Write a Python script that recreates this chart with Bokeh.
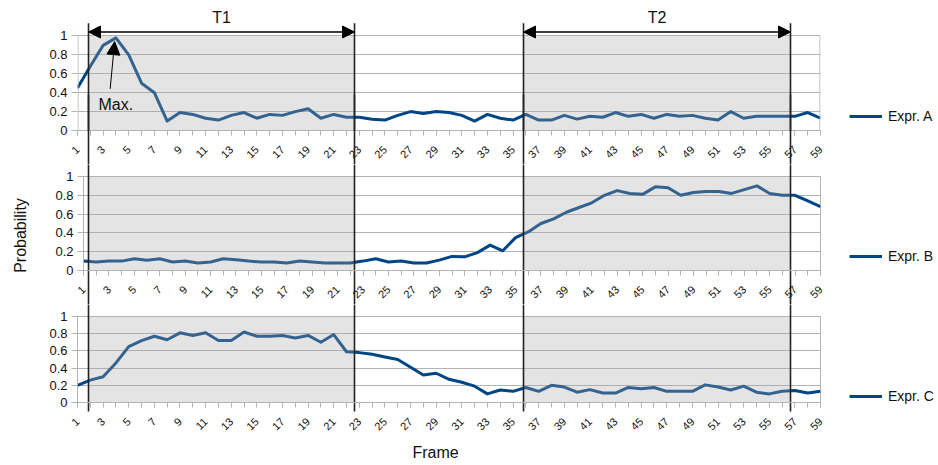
import math
from bokeh.plotting import figure
from bokeh.layouts import column, row
from bokeh.models import (Range1d, FixedTicker, BoxAnnotation, Arrow, NormalHead,
                          Label, Legend, LegendItem, LinearAxis, Title)
from bokeh.embed import file_html
from bokeh.resources import INLINE

# ---------------- data ----------------
frames = list(range(1, 60))
series_names = ["Expr. A", "Expr. B", "Expr. C"]
expr_a = [0.45, 0.68, 0.90, 0.98, 0.80, 0.50, 0.40, 0.10, 0.19, 0.17,
          0.13, 0.11, 0.16, 0.19, 0.13, 0.17, 0.16, 0.20, 0.23, 0.13,
          0.17, 0.14, 0.14, 0.12, 0.11, 0.16, 0.20, 0.18, 0.20, 0.19,
          0.16, 0.10, 0.17, 0.13, 0.11, 0.17, 0.11, 0.11, 0.16, 0.12,
          0.15, 0.14, 0.19, 0.15, 0.17, 0.13, 0.17, 0.15, 0.16, 0.13,
          0.11, 0.20, 0.13, 0.15, 0.15, 0.15, 0.15, 0.19, 0.13]
expr_b = [0.10, 0.09, 0.10, 0.10, 0.125, 0.11, 0.125, 0.09, 0.10, 0.08,
          0.09, 0.125, 0.115, 0.10, 0.09, 0.09, 0.08, 0.10, 0.09, 0.08,
          0.08, 0.08, 0.10, 0.125, 0.09, 0.10, 0.08, 0.08, 0.11, 0.15,
          0.145, 0.19, 0.27, 0.21, 0.35, 0.41, 0.50, 0.55, 0.62, 0.67,
          0.72, 0.80, 0.85, 0.82, 0.81, 0.89, 0.88, 0.80, 0.83, 0.84,
          0.84, 0.82, 0.86, 0.90, 0.82, 0.80, 0.80, 0.74, 0.68]
expr_c = [0.20, 0.26, 0.30, 0.46, 0.65, 0.72, 0.77, 0.73, 0.81, 0.78,
          0.81, 0.72, 0.72, 0.82, 0.77, 0.77, 0.78, 0.75, 0.78, 0.70,
          0.79, 0.59, 0.58, 0.56, 0.53, 0.50, 0.41, 0.32, 0.34, 0.27,
          0.235, 0.19, 0.10, 0.145, 0.13, 0.175, 0.13, 0.20, 0.18, 0.12,
          0.15, 0.11, 0.11, 0.175, 0.16, 0.175, 0.13, 0.13, 0.13, 0.205,
          0.18, 0.145, 0.19, 0.12, 0.10, 0.13, 0.14, 0.11, 0.13]
y_ticks = [0, 0.2, 0.4, 0.6, 0.8, 1]
y_tick_labels = ["0", "0.2", "0.4", "0.6", "0.8", "1"]
x_tick_frames = list(range(1, 60, 2))
x_tick_labels = [str(f) for f in x_tick_frames]
period_names = ["T1", "T2"]

# ---------------- layout / style (page pixels) ----------------
W, H = 938, 465
LEFT_W = 40            # strip holding the "Probability" label
RIGHT_X = 824          # legend strip starts here
FRAME_RIGHT = 820
# (frame_left, frame_top, frame_bottom, fig_top, fig_bottom); panel A's frame
# reaches up to the page top so the period arrows can live in it
PANELS = [(77, 0, 132, 0, 164), (83, 176, 272, 164, 304), (77, 316, 406, 304, 465)]
PLOT_TOP_A = 36
GUIDE_X = [88, 354, 523, 790]
GUIDE_TOP, GUIDE_BOTTOM_C = 23, 411
ARROW_Y = 32
PERIOD_LABEL_Y = 17
LEGEND_Y = [116, 256, 396]
LEGEND_X = 849
PROB_LABEL = (20, 235)
FRAME_LABEL_LEFT = 412
LINE_COLOR = "#004586"
GUIDE_COLOR = "#222222"
GRID = "#b3b3b3"
FONT = "Liberation Sans"
TXT = "#111111"


def blank_fig(x0, x1, w):
    f = figure(width=w, height=H, x_range=Range1d(x0, x1), y_range=Range1d(H, 0),
               x_axis_type=None, y_axis_type=None, output_backend="svg",
               toolbar_location=None, min_border=0, title=None, frame_align=False)
    f.outline_line_color = None
    f.background_fill_color = "white"
    f.border_fill_color = "white"
    return f


# left strip: y axis title
left = blank_fig(0, LEFT_W, LEFT_W)
left.add_layout(Label(x=PROB_LABEL[0], y=PROB_LABEL[1], text="Probability", angle=math.pi / 2,
                      text_align="center", text_baseline="middle", text_font=FONT,
                      text_font_size="16px", text_color=TXT))

series = [expr_a, expr_b, expr_c]
figs = []
for i, (vals, name, pan) in enumerate(zip(series, series_names, PANELS)):
    fl, ft, fb, gt, gb = pan
    y_top = 1 + (PLOT_TOP_A - ft) / (fb - PLOT_TOP_A) if i == 0 else 1
    p = figure(width=RIGHT_X - LEFT_W, height=gb - gt, x_range=Range1d(1, 59),
               y_range=Range1d(0, y_top),
               output_backend="svg", toolbar_location=None, title=None, frame_align=False,
               min_border_left=fl - LEFT_W, min_border_right=RIGHT_X - FRAME_RIGHT,
               min_border_top=ft - gt, min_border_bottom=gb - fb)
    p.extra_x_ranges = {"px": Range1d(fl, FRAME_RIGHT)}
    p.extra_y_ranges = {"py": Range1d(fb, ft)}
    p.background_fill_color = "white"
    p.border_fill_color = "white"
    p.outline_line_color = GRID if i else None
    p.xgrid.visible = False
    p.ygrid.grid_line_color = GRID

    p.xaxis.ticker = FixedTicker(ticks=x_tick_frames, minor_ticks=frames)
    p.xaxis.major_label_overrides = dict(zip(x_tick_frames, x_tick_labels))
    p.xaxis.major_label_orientation = math.pi / 4
    p.xaxis.major_label_text_font = FONT
    p.xaxis.major_label_text_font_size = "11px"
    p.xaxis.major_label_text_color = TXT
    p.xaxis.major_label_standoff = 12
    p.xaxis.axis_line_color = GRID
    p.xaxis.major_tick_line_color = GRID
    p.xaxis.minor_tick_line_color = GRID
    p.xaxis.major_tick_out = 5
    p.xaxis.major_tick_in = 0
    p.xaxis.minor_tick_out = 5
    p.xaxis.minor_tick_in = 0

    p.yaxis.ticker = FixedTicker(ticks=y_ticks)
    p.yaxis.major_label_overrides = dict(zip(y_ticks, y_tick_labels))
    p.yaxis.major_label_text_font = FONT
    p.yaxis.major_label_text_font_size = "13px"
    p.yaxis.major_label_text_color = TXT
    p.yaxis.major_label_standoff = 4
    p.yaxis.axis_line_color = GRID if i else None
    p.yaxis.major_tick_line_color = GRID
    p.yaxis.major_tick_out = 6
    p.yaxis.major_tick_in = 0
    p.yaxis.minor_tick_line_color = None

    p.line(frames, vals, line_color=LINE_COLOR, line_width=3, line_join="round")

    # shaded periods, drawn over the data line (semi-transparent)
    for k in range(2):
        p.add_layout(BoxAnnotation(left=GUIDE_X[2 * k], right=GUIDE_X[2 * k + 1], x_range_name="px",
                                   bottom=0, top=1,
                                   fill_color=(168, 168, 168), fill_alpha=0.31,
                                   line_color=None, level="glyph"))

    if i == 0:
        # plot-area border of panel A (its frame also holds the header)
        for bx in (fl + 0.5, FRAME_RIGHT - 0.5):
            p.add_layout(Arrow(x_start=bx, y_start=PLOT_TOP_A, x_end=bx, y_end=fb,
                               x_range_name="px", y_range_name="py", start=None, end=None,
                               line_color=GRID, line_width=1))
        # vertical guides inside the frame
        for gx in GUIDE_X:
            p.add_layout(Arrow(x_start=gx, y_start=GUIDE_TOP, x_end=gx, y_end=fb + 10,
                               x_range_name="px", y_range_name="py", start=None, end=None,
                               line_color=GUIDE_COLOR, line_width=1.6))
        # guides crossing the tick-label band: ticks of an unlabeled outer axis
        gax = LinearAxis(x_range_name="px", ticker=FixedTicker(ticks=GUIDE_X),
                         axis_line_color=None, major_tick_line_color=GUIDE_COLOR,
                         major_tick_line_width=1.6, major_tick_in=70, major_tick_out=0,
                         minor_tick_line_color=None, major_label_text_font_size="0px",
                         major_label_standoff=0,
                         major_label_overrides={g: "" for g in GUIDE_X})
        p.add_layout(gax, "below")
        # period arrows and names
        for k in range(2):
            x0, x1 = GUIDE_X[2 * k], GUIDE_X[2 * k + 1]
            p.add_layout(Arrow(x_start=x0, y_start=ARROW_Y, x_end=x1, y_end=ARROW_Y,
                               x_range_name="px", y_range_name="py",
                               start=NormalHead(size=12, fill_color="black", line_color="black", line_width=1),
                               end=NormalHead(size=12, fill_color="black", line_color="black", line_width=1),
                               line_color="black", line_width=1.6))
            p.add_layout(Label(x=(x0 + x1) / 2, y=PERIOD_LABEL_Y, x_range_name="px", y_range_name="py",
                               text=period_names[k], text_align="center", text_baseline="middle",
                               text_font=FONT, text_font_size="16px", text_color=TXT))
        # Max annotation
        peak_i = max(range(len(vals)), key=lambda j: vals[j])
        pf, pv = frames[peak_i], vals[peak_i]
        p.add_layout(Arrow(x_start=pf - 0.45, y_start=0.44, x_end=pf - 0.1, y_end=pv - 0.04,
                           end=NormalHead(size=13, fill_color="black", line_color="black", line_width=1),
                           line_color="black", line_width=1))
        p.add_layout(Label(x=pf - 1.36, y=0.27, text="Max.", text_align="left", text_baseline="middle",
                           text_font=FONT, text_font_size="16px", text_color=TXT))
    else:
        # vertical guides: ticks of an unlabeled axis above the frame, reaching down
        tick_in = (GUIDE_BOTTOM_C - ft) if i == 2 else 400
        gax = LinearAxis(x_range_name="px", ticker=FixedTicker(ticks=GUIDE_X),
                         axis_line_color=None, major_tick_line_color=GUIDE_COLOR,
                         major_tick_line_width=1.6, major_tick_in=tick_in, major_tick_out=ft - gt,
                         minor_tick_line_color=None, major_label_text_font_size="0px",
                         major_label_standoff=0,
                         major_label_overrides={g: "" for g in GUIDE_X})
        p.add_layout(gax, "above")
    if i == 2:
        p.add_layout(Title(text="Frame", align="left", offset=FRAME_LABEL_LEFT - fl, text_font=FONT,
                           text_font_size="16px", text_font_style="normal", text_color=TXT),
                     "below")
    figs.append(p)

# right strip: legend (swatch renderers sit outside the strip's visible range)
right = blank_fig(RIGHT_X, W, W - RIGHT_X)
items = []
for name in series_names:
    rr = right.line(x=[0, 1], y=[0, 0], line_color=LINE_COLOR, line_width=3)
    items.append(LegendItem(label=name, renderers=[rr]))
legend = Legend(items=items, location=(LEGEND_X - RIGHT_X, H - (LEGEND_Y[-1] + 8)),
                padding=0, margin=0, spacing=(LEGEND_Y[1] - LEGEND_Y[0]) - 16,
                border_line_color=None, background_fill_alpha=0,
                glyph_width=33, glyph_height=16, label_height=16, label_standoff=6,
                label_text_font=FONT, label_text_font_size="14px", label_text_color=TXT)
right.add_layout(legend)

layout = row(left, column(*figs, spacing=0), right, spacing=0)
open("out.html", "w").write(file_html(layout, INLINE))
